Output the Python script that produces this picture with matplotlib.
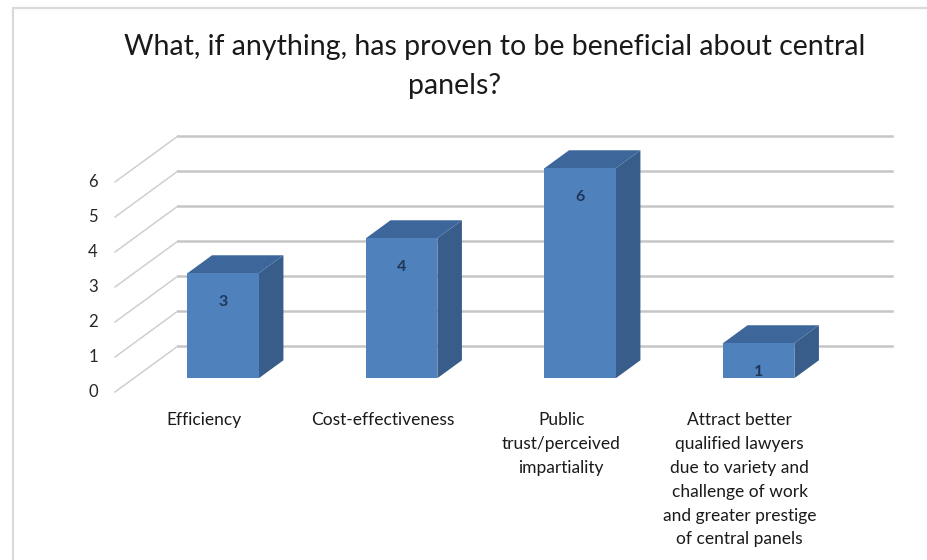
import matplotlib
matplotlib.use("Agg")
import matplotlib.pyplot as plt
from matplotlib.patches import Polygon, Rectangle

plt.rcParams["font.family"] = ["Lato", "DejaVu Sans"]

# --- data ---
categories = [
    "Efficiency",
    "Cost-effectiveness",
    "Public\ntrust/perceived\nimpartiality",
    "Attract better\nqualified lawyers\ndue to variety and\nchallenge of work\nand greater prestige\nof central panels",
]
counts = [3, 4, 6, 1]
y_ticks = [0, 1, 2, 3, 4, 5, 6]
title_lines = ["What, if anything, has proven to be beneficial about central",
               "panels?"]

# --- layout (pixels on a 928x560 canvas) ---
W, H = 928, 560
X0_PX, SLOT_PX = 115, 178.5      # front-left floor corner, width of one category
Y0_PX, UNIT_PX = 392, 35         # front floor baseline, pixels per unit
DX = 63 / SLOT_PX                # full floor depth, projected
DY = 46 / UNIT_PX
D_FRONT, D_BACK = 0.30, 0.69     # bar depth inside the floor
BAR_W = 0.40

FRONT = "#4f81bd"
SIDE = "#385d8a"
TOP = "#3d679b"
GRID = "#c6c6c6"

fig = plt.figure(figsize=(W / 100, H / 100), dpi=100)
ax = fig.add_axes([0, 0, 1, 1])
ax.set_xlim(-X0_PX / SLOT_PX, (W - X0_PX) / SLOT_PX)
ax.set_ylim((Y0_PX - H) / UNIT_PX, Y0_PX / UNIT_PX)
ax.axis("off")

# outer frame
fig.patches.append(Rectangle((13 / W, -0.1), 1.2, 1.1 - 8 / H,
                             transform=fig.transFigure, fill=False,
                             edgecolor="#dadada", linewidth=1.6))

n = len(categories)
# side wall diagonals and back wall gridlines
for v in y_ticks:
    ax.plot([0, DX], [v, v + DY], color="#cfcfcf", lw=1.1, zorder=1)
    ax.plot([DX, n + DX], [v + DY, v + DY], color=GRID, lw=1.8, zorder=1)
    ax.text(-0.123, v, str(v), ha="center", va="center", fontsize=12,
            color="#262626")

# 3D-style columns
ddx = (D_BACK - D_FRONT) * DX
ddy = (D_BACK - D_FRONT) * DY
for i, v in enumerate(counts):
    xl = i + 0.5 - BAR_W / 2 + D_FRONT * DX
    xr = xl + BAR_W
    y0 = D_FRONT * DY
    y1 = v + y0
    side = Polygon([(xr, y0), (xr, y1), (xr + ddx, y1 + ddy), (xr + ddx, y0 + ddy)],
                   closed=True, facecolor=SIDE, edgecolor="none", zorder=3)
    top = Polygon([(xl, y1), (xr, y1), (xr + ddx, y1 + ddy), (xl + ddx, y1 + ddy)],
                  closed=True, facecolor=TOP, edgecolor="none", zorder=3)
    front = Rectangle((xl, y0), BAR_W, v, facecolor=FRONT, edgecolor="none", zorder=4)
    for p in (side, top, front):
        ax.add_patch(p)
    ax.text((xl + xr) / 2, y1 - 0.82, str(v), ha="center", va="center",
            fontsize=11.5, fontweight="bold", color="#1f3656", zorder=5)

# category labels
for i, name in enumerate(categories):
    ax.text(i + 0.5, -0.58, name, ha="center", va="top", fontsize=12.5,
            linespacing=1.6, color="#1a1a1a")

# title
fig.text(495 / W, 1 - 47 / H, title_lines[0], ha="center", va="center",
         fontsize=20.5, color="#1a1a1a")
fig.text(455 / W, 1 - 86 / H, title_lines[1], ha="center", va="center",
         fontsize=20.5, color="#1a1a1a")

fig.savefig("out.png", dpi=100)
